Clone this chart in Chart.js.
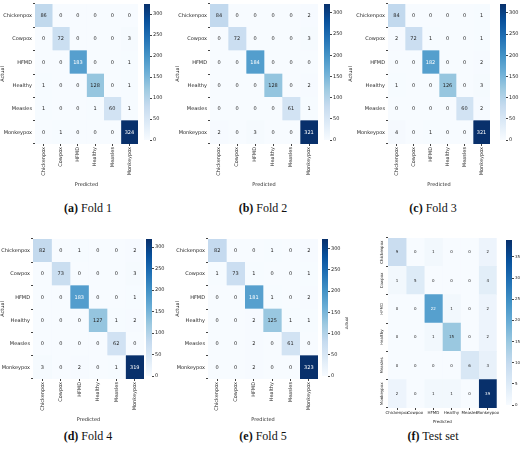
<!DOCTYPE html>
<html><head><meta charset="utf-8">
<script src="https://cdn.jsdelivr.net/npm/chart.js@4"></script>
<style>
body{margin:0;background:#fff;width:520px;height:451px;position:relative;overflow:hidden;font-family:"Liberation Serif",serif}
canvas{position:absolute}
.cap{position:absolute;font-size:12px;transform:translateX(-50%);white-space:nowrap;color:#111}
</style></head><body>
<div class="cap" style="left:88px;top:201px"><b>(a)</b> Fold 1</div>
<div class="cap" style="left:263px;top:201px"><b>(b)</b> Fold 2</div>
<div class="cap" style="left:433px;top:201px"><b>(c)</b> Fold 3</div>
<div class="cap" style="left:88px;top:429px"><b>(d)</b> Fold 4</div>
<div class="cap" style="left:263px;top:429px"><b>(e)</b> Fold 5</div>
<div class="cap" style="left:433px;top:429px"><b>(f)</b> Test set</div>
<script>
const categories=["Chickenpox","Cowpox","HFMD","Healthy","Measles","Monkeypox"];
const fold1=[[86,0,0,0,0,0],[0,72,0,0,0,3],[0,0,183,0,0,1],[1,0,0,128,0,1],[1,0,0,1,60,1],[0,1,0,0,0,324]];
const fold2=[[84,0,0,0,0,2],[0,72,0,0,0,3],[0,0,184,0,0,0],[0,0,0,128,0,2],[0,0,0,0,61,1],[2,0,3,0,0,321]];
const fold3=[[84,0,0,0,0,1],[2,72,1,0,0,1],[0,0,182,0,0,2],[1,0,0,126,0,3],[0,0,0,0,60,2],[4,0,1,0,0,321]];
const fold4=[[82,0,1,0,0,2],[0,73,0,0,0,3],[0,0,183,0,0,1],[0,0,0,127,1,2],[0,0,0,0,62,0],[3,0,2,0,1,319]];
const fold5=[[82,0,0,1,0,2],[1,73,1,0,0,1],[0,0,181,1,0,2],[0,0,2,125,1,1],[0,0,2,0,61,0],[0,0,2,0,0,323]];
const testSet=[[9,0,1,0,0,2],[1,5,0,0,0,4],[0,0,22,1,0,2],[0,0,1,15,0,2],[0,0,0,0,6,3],[2,0,1,1,0,39]];
const foldTicks=[0,50,100,150,200,250,300];
const testTicks=[0,5,10,15,20,25,30,35];

const stops=[[247,251,255],[222,235,247],[198,219,239],[158,202,225],[107,174,214],[66,146,198],[33,113,181],[8,81,156],[8,48,107]];
function cmap(t){t=Math.max(0,Math.min(1,t));const p=t*8,i=Math.min(7,Math.floor(p)),f=p-i;const a=stops[i],b=stops[i+1];
return `rgb(${a.map((v,k)=>Math.round(v+(b[k]-v)*f)).join(',')})`;}
const FONT="'DejaVu Sans'";
function mk(left,top,w,h){const c=document.createElement('canvas');c.style.left=left+'px';c.style.top=top+'px';c.style.width=w+'px';c.style.height=h+'px';c.width=w;c.height=h;document.body.appendChild(c);return c;}

function heat(m,left,top,w,h,yw,xh,vertY,fs){
  const max=Math.max(...m.flat());
  const c=mk(left,top,w,h);
  const txt={id:'txt',afterDatasetsDraw(ch){const x=ch.ctx;x.save();x.font=`${fs}px ${FONT}`;x.textAlign='center';x.textBaseline='middle';
    ch.data.datasets.forEach((d,j)=>{ch.getDatasetMeta(j).data.forEach((el,i)=>{const v=m[i][j];x.fillStyle=v/max>0.5?'#fff':'#262626';x.fillText(v,(el.x+el.base)/2,el.y);});});
    if(vertY){const ys=ch.scales.y;x.fillStyle='#262626';categories.forEach((cat,i)=>{const yy=ys.getPixelForValue(i);x.save();x.translate(ch.chartArea.left-6,yy);x.rotate(-Math.PI/2);x.fillText(cat,0,0);x.restore();});}
    x.restore();}};
  new Chart(c,{type:'bar',data:{labels:categories,datasets:categories.map((_,j)=>({data:categories.map(()=>1),backgroundColor:m.map(r=>cmap(r[j]/max)),borderWidth:0,barPercentage:1,categoryPercentage:1}))},
   options:{indexAxis:'y',responsive:false,animation:false,events:[],layout:{padding:{top:2,right:0}},
    plugins:{legend:{display:false},tooltip:{enabled:false}},
    scales:{
     x:{type:'linear',stacked:true,min:0,max:6,border:{display:false},grid:{display:true,drawOnChartArea:false,tickLength:2,color:'#444'},
       afterBuildTicks:a=>{a.ticks=[0.5,1.5,2.5,3.5,4.5,5.5].map(v=>({value:v}));},
       afterFit:s=>{s.height=xh;},
       ticks:{autoSkip:false,minRotation:vertY?0:90,maxRotation:vertY?0:90,padding:1,color:'#262626',font:{size:fs,family:FONT},callback:v=>categories[Math.floor(v)]},
       title:{display:true,text:'Predicted',color:'#262626',font:{size:fs,family:FONT},padding:{top:1,bottom:0}}},
     y:{stacked:true,border:{display:false},grid:{display:true,drawOnChartArea:false,tickLength:2,color:'#444'},
       afterFit:s=>{s.width=yw;},
       ticks:{display:!vertY,padding:1,color:'#262626',font:{size:fs,family:FONT}},
       title:{display:true,text:'Actual',color:'#262626',font:{size:fs,family:FONT},padding:0}}}},
   plugins:[txt]});
}
function cbar(m,ticks,left,top,w,h,fs,bw){
  const max=Math.max(...m.flat());
  const c=mk(left,top-3,w,h+6);
  const g={id:'g',afterDraw(ch){const a=ch.chartArea,x=ch.ctx;const gr=x.createLinearGradient(0,a.bottom,0,a.top);
    for(let k=0;k<=8;k++)gr.addColorStop(k/8,cmap(k/8));x.fillStyle=gr;x.fillRect(a.right-bw,a.top,bw,a.bottom-a.top);}};
  new Chart(c,{type:'line',data:{labels:[''],datasets:[{data:[null]}]},
   options:{responsive:false,animation:false,events:[],layout:{padding:{top:3,bottom:3}},plugins:{legend:{display:false},tooltip:{enabled:false}},
    scales:{x:{display:false},y:{position:'right',min:0,max:max,border:{display:false},grid:{display:true,drawOnChartArea:false,tickLength:2,color:'#444'},
     afterFit:s=>{s.width=w-bw;},
     afterBuildTicks:a=>{a.ticks=ticks.map(v=>({value:v}));},
     ticks:{padding:1,color:'#262626',font:{size:fs,family:FONT}}}}},plugins:[g]});
}
heat(fold1,0,0,138,188,35,44,false,5);  cbar(fold1,foldTicks,144,2,28,140,5,6);
heat(fold2,175,0,143,188,35,44,false,5); cbar(fold2,foldTicks,324,2,28,140,5,6);
heat(fold3,348,0,142,188,40,44,false,5); cbar(fold3,foldTicks,500,2,20,140,5,6);
heat(fold4,0,235,144,188,33,44,false,5); cbar(fold4,foldTicks,146,237,28,141,5,6);
heat(fold5,175,235,143,188,33,44,false,5); cbar(fold5,foldTicks,322,237,28,141,5,6);
heat(testSet,345,236,155,188,43,16,true,4); cbar(testSet,testTicks,506,238,14,169,4,6);
</script></body></html>
